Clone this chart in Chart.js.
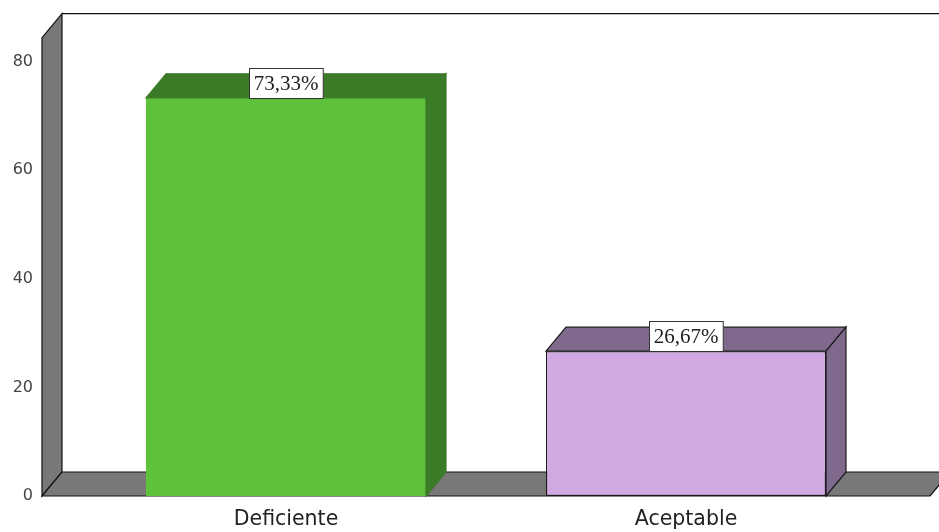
<!DOCTYPE html>
<html>
<head>
<meta charset="utf-8">
<script src="https://cdn.jsdelivr.net/npm/chart.js@4"></script>
<style>
html,body{margin:0;padding:0;background:#fff;}
#wrap{width:939px;height:532px;position:relative;}
</style>
</head>
<body>
<div id="wrap"><canvas id="c" width="939" height="532"></canvas></div>
<script>
// ---- data ----
const categories = ['Deficiente', 'Aceptable'];
const percentValues = [73.33, 26.67];
const percentLabels = ['73,33%', '26,67%'];
const yTicks = [0, 20, 40, 60, 80];

// ---- styles ----
const frontColors = ['#5dc13b', '#d1aae4'];
const darkColors = ['#3b7a26', '#7f6a8e'];
const edgeColors = ['#3b7a26', '#1a1a1a'];
const wallColor = '#787878';
const DX = 20, DY = -24;     // depth offset
const AXIS_TOP = 84.4;       // top of the walls (axis value)
const FLOOR_L = -0.61, FLOOR_R = 1.61; // floor extent in category units

const threeD = {
  id: 'threeD',
  beforeDatasetsDraw(chart) {
    const ctx = chart.ctx;
    const x = chart.scales.x, y = chart.scales.y;
    const y0 = y.getPixelForValue(0), yT = y.getPixelForValue(AXIS_TOP);
    const xl = x.getPixelForValue(FLOOR_L), xr = x.getPixelForValue(FLOOR_R);
    ctx.save();
    ctx.lineWidth = 1.2;
    ctx.strokeStyle = '#111';
    ctx.beginPath();
    ctx.moveTo(xl + DX, yT + DY);
    ctx.lineTo(chart.width + 5, yT + DY);
    ctx.stroke();
    ctx.beginPath();
    ctx.moveTo(xl, y0);
    ctx.lineTo(xl, yT);
    ctx.lineTo(xl + DX, yT + DY);
    ctx.lineTo(xl + DX, y0 + DY);
    ctx.closePath();
    ctx.fillStyle = wallColor;
    ctx.fill();
    ctx.stroke();
    ctx.beginPath();
    ctx.moveTo(xl, y0);
    ctx.lineTo(xl + DX, y0 + DY);
    ctx.lineTo(xr + DX, y0 + DY);
    ctx.lineTo(xr, y0);
    ctx.closePath();
    ctx.fillStyle = wallColor;
    ctx.fill();
    ctx.stroke();
    ctx.restore();
  },
  afterDatasetsDraw(chart) {
    const ctx = chart.ctx;
    const meta = chart.getDatasetMeta(0);
    ctx.save();
    meta.data.forEach((bar, i) => {
      const p = bar.getProps(['x', 'y', 'base', 'width'], true);
      const l = p.x - p.width / 2, r = p.x + p.width / 2;
      ctx.lineWidth = 1.2;
      ctx.strokeStyle = edgeColors[i];
      ctx.fillStyle = darkColors[i];
      ctx.beginPath();
      ctx.moveTo(l, p.y);
      ctx.lineTo(l + DX, p.y + DY);
      ctx.lineTo(r + DX, p.y + DY);
      ctx.lineTo(r, p.y);
      ctx.closePath();
      ctx.fill();
      ctx.stroke();
      ctx.beginPath();
      ctx.moveTo(r, p.y);
      ctx.lineTo(r + DX, p.y + DY);
      ctx.lineTo(r + DX, p.base + DY);
      ctx.lineTo(r, p.base);
      ctx.closePath();
      ctx.fill();
      ctx.stroke();
    });
    ctx.font = '21px "Liberation Serif", serif';
    ctx.textAlign = 'center';
    ctx.textBaseline = 'middle';
    meta.data.forEach((bar, i) => {
      const p = bar.getProps(['x', 'y'], true);
      const txt = percentLabels[i];
      const w = ctx.measureText(txt).width + 9;
      const h = 30;
      const bx = Math.round(p.x - w / 2) + 0.5, by = Math.round(p.y - h) + 0.5;
      ctx.fillStyle = '#fff';
      ctx.fillRect(bx, by, w, h);
      ctx.lineWidth = 1;
      ctx.strokeStyle = '#333';
      ctx.strokeRect(bx, by, w, h);
      ctx.fillStyle = '#222';
      ctx.fillText(txt, p.x, by + h / 2 + 1);
    });
    ctx.restore();
  }
};

new Chart(document.getElementById('c'), {
  type: 'bar',
  data: {
    labels: categories,
    datasets: [{
      data: percentValues,
      backgroundColor: frontColors,
      borderColor: edgeColors,
      borderWidth: [0, 1.2],
      borderSkipped: false,
      barPercentage: 0.7,
      categoryPercentage: 1.0
    }]
  },
  options: {
    responsive: false,
    animation: false,
    events: [],
    layout: { padding: { left: 0, right: 53, top: 37.7, bottom: 0 } },
    plugins: { legend: { display: false }, tooltip: { enabled: false } },
    scales: {
      x: {
        grid: { display: false, drawTicks: false },
        border: { display: false },
        ticks: { color: '#222', font: { family: '"DejaVu Sans", sans-serif', size: 20.5 }, padding: 11 },
        afterFit(s) { s.height = 36; s.paddingLeft = 0; s.paddingRight = 0; }
      },
      y: {
        min: 0,
        max: AXIS_TOP,
        grid: { display: false, drawTicks: false },
        border: { display: false },
        afterBuildTicks(s) { s.ticks = yTicks.map(v => ({ value: v })); },
        ticks: { color: '#444', font: { family: '"DejaVu Sans", sans-serif', size: 16 }, padding: 53 },
        afterFit(s) { s.width = 86; s.paddingTop = 0; s.paddingBottom = 0; }
      }
    }
  },
  plugins: [threeD]
});
</script>
</body>
</html>
